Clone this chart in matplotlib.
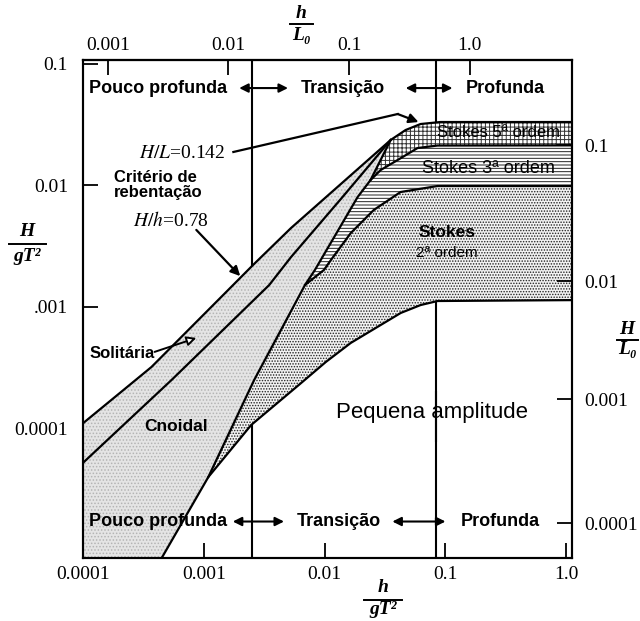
import numpy as np
import matplotlib.pyplot as plt
from matplotlib.lines import Line2D
from matplotlib.ticker import NullLocator

plt.rcParams['font.family'] = 'Liberation Sans'
plt.rcParams['mathtext.fontset'] = 'stix'
plt.rcParams['hatch.linewidth'] = 0.7

# zone limits in h/gT^2
shallow_lim = 0.0025
deep_lim = 0.083

# curves: (h/gT^2, H/gT^2)
brk_x = [1.0e-4, 3.67e-4, 1.39e-3, 2.55e-3, 5.26e-3, 1.359e-2, 3.516e-2, 4.675e-2, 6.217e-2, 9.09e-2, 1.3]
brk_y = [1.1e-4, 3.18e-4, 1.20e-3, 2.20e-3, 4.43e-3, 1.019e-2, 2.347e-2, 2.836e-2, 3.177e-2, 3.30e-2, 3.3e-2]
conv = 6  # where solitary / cnoidal / Ursell lines meet the breaking curve

sol_x = [1.0e-4, 5.37e-4, 3.46e-3, 5.26e-3, 1.359e-2, 3.516e-2]
sol_y = [5.2e-5, 2.48e-4, 1.50e-3, 2.555e-3, 7.67e-3, 2.347e-2]

urs_x = [4.3e-4, 1.085e-3, 2.60e-3, 6.86e-3, 8.29e-3, 1.872e-2, 2.396e-2, 3.516e-2]
urs_y = [8.0e-6, 3.95e-5, 2.48e-4, 1.503e-3, 2.00e-3, 7.96e-3, 1.099e-2, 2.347e-2]

lin_x = [1.085e-3, 2.46e-3, 6.35e-3, 1.022e-2, 1.64e-2, 4.26e-2, 6.217e-2, 8.6e-2, 1.3]
lin_y = [3.95e-5, 1.06e-4, 2.34e-4, 3.50e-4, 5.01e-4, 8.85e-4, 1.028e-3, 1.11e-3, 1.13e-3]

st3_x = [6.86e-3, 9.85e-3, 1.125e-2, 1.643e-2, 2.545e-2, 4.25e-2, 8.59e-2, 1.3]
st3_y = [1.503e-3, 2.00e-3, 2.414e-3, 4.025e-3, 6.225e-3, 8.76e-3, 9.81e-3, 9.81e-3]

st5_x = [2.396e-2, 2.907e-2, 4.016e-2, 5.87e-2, 8.59e-2, 1.3]
st5_y = [1.099e-2, 1.329e-2, 1.606e-2, 2.015e-2, 2.113e-2, 2.12e-2]

bottom_ticks = [1e-4, 1e-3, 1e-2, 1e-1, 1.0]
bottom_labels = ['0.0001', '0.001', '0.01', '0.1', '1.0']
left_ticks = [1e-1, 1e-2, 1e-3, 1e-4]
left_labels = ['0.1', '0.01', '.001', '0.0001']
top_ticks = [0.001, 0.01, 0.1, 1.0]
top_labels = ['0.001', '0.01', '0.1', '1.0']
right_ticks = [2.13e-2, 1.62e-3, 1.72e-4, 1.64e-5]
right_labels = ['0.1', '0.01', '0.001', '0.0001']

W, H = 640, 621
fig = plt.figure(figsize=(W / 100, H / 100), dpi=100)
ax = fig.add_axes([0.1302, 0.1019, 0.7631, 0.8015])
ax.set_xscale('log')
ax.set_yscale('log')
ax.set_xlim(10 ** -3.9856, 10 ** 0.0458)
ax.set_ylim(10 ** -5.0675, 10 ** -0.971)

tick_kw = dict(direction='in', length=11, width=1.3, labelsize=14,
               labelfontfamily='Liberation Serif')
ax.set_xticks(bottom_ticks, bottom_labels)
ax.set_yticks(left_ticks, left_labels)
ax.minorticks_off()
ax.tick_params(axis='x', pad=6, **tick_kw)
ax.tick_params(axis='y', pad=11, **tick_kw)
for s in ax.spines.values():
    s.set_linewidth(1.5)

top = ax.secondary_xaxis('top', functions=(lambda x: x * 2 * np.pi, lambda x: x / (2 * np.pi)))
top.set_xticks(top_ticks, top_labels)
top.xaxis.set_minor_locator(NullLocator())
top.tick_params(pad=4, **tick_kw)
top.spines['top'].set_linewidth(1.5)

ax2 = ax.twinx()
ax2.set_yscale('log')
ax2.set_ylim(ax.get_ylim())
ax2.set_yticks(right_ticks, right_labels)
ax2.minorticks_off()
ax2.tick_params(pad=9, **tick_kw)
for s in ax2.spines.values():
    s.set_linewidth(1.5)

# zone boundaries (hidden under the filled regions)
ax.axvline(shallow_lim, color='k', lw=1.5, zorder=1)
ax.vlines([deep_lim, deep_lim], [1e-6, 7.67e-5], [2.02e-4, 1.0], color='k', lw=1.5, zorder=1)

brk = list(zip(brk_x, brk_y))
sol = list(zip(sol_x, sol_y))
urs = list(zip(urs_x, urs_y))
lin = list(zip(lin_x, lin_y))
st3 = list(zip(st3_x, st3_y))
st5 = list(zip(st5_x, st5_y))

light = dict(facecolor='#e4e4e4', edgecolor='#b4b4b4', hatch='.....', lw=0, zorder=2)
solitary = brk[:conv + 1] + sol[::-1][1:]
cnoidal = sol + urs[::-1][1:] + [(5e-5, 8e-6), (5e-5, sol_y[0])]
stokes2 = lin + st3[::-1] + [urs[2]]
stokes3 = st3 + st5[::-1] + [urs[5], urs[4]]
stokes5 = st5 + brk[::-1][:len(brk) - conv]

for poly, kw in [(solitary, light), (cnoidal, light),
                 (stokes2, dict(facecolor='#f2f2f2', edgecolor='#222222', hatch='......', lw=0, zorder=2)),
                 (stokes3, dict(facecolor='white', edgecolor='#222222', hatch='-----', lw=0, zorder=2)),
                 (stokes5, dict(facecolor='white', edgecolor='#333333', hatch='++++', lw=0, zorder=2))]:
    px, py = zip(*poly)
    ax.fill(px, py, **kw)

for xs, ys in [(brk_x, brk_y), (sol_x, sol_y), (urs_x, urs_y), (lin_x, lin_y),
               (st3_x, st3_y), (st5_x, st5_y)]:
    ax.plot(xs, ys, color='k', lw=1.6, zorder=3, solid_joinstyle='round')

# zone names and arrows
zone = dict(fontsize=13, fontweight='bold', va='center', zorder=5)
arr = dict(arrowstyle='<|-|>', color='k', lw=1.5, mutation_scale=13, shrinkA=0, shrinkB=0)
for y in [6.28e-2, 1.70e-5]:
    ax.text(1.11e-4, y, 'Pouco profunda', ha='left', **zone)
ax.text(1.40e-2, 6.28e-2, 'Transição', ha='center', **zone)
ax.text(1.30e-2, 1.70e-5, 'Transição', ha='center', **zone)
ax.text(0.3125, 6.28e-2, 'Profunda', ha='center', **zone)
ax.text(0.284, 1.70e-5, 'Profunda', ha='center', **zone)
for (x0, x1), y in [((1.955e-3, 4.96e-3), 6.28e-2), ((4.68e-2, 0.1143), 6.28e-2),
                    ((1.73e-3, 4.60e-3), 1.70e-5), ((3.63e-2, 0.1), 1.70e-5)]:
    ax.annotate('', xy=(x1, y), xytext=(x0, y), arrowprops=arr, zorder=5)

# region labels
ax.text(0.274, 2.73e-2, 'Stokes 5ª ordem', ha='center', va='center', fontsize=12, zorder=5)
ax.text(0.2267, 1.38e-2, 'Stokes 3ª ordem', ha='center', va='center', fontsize=13, zorder=5)
ax.text(0.1033, 4.03e-3, 'Stokes', ha='center', va='center', fontsize=12.5, fontweight='bold', zorder=5)
ax.text(0.1033, 2.77e-3, '2ª ordem', ha='center', va='center', fontsize=11, zorder=5)
ax.text(7.74e-2, 1.33e-4, 'Pequena amplitude', ha='center', va='center', fontsize=16, zorder=5)
ax.text(5.9e-4, 1.02e-4, 'Cnoidal', ha='center', va='center', fontsize=12.5, fontweight='bold', zorder=5)
ax.text(1.13e-4, 4.14e-4, 'Solitária', ha='left', va='center', fontsize=12, fontweight='bold', zorder=5)
ax.text(1.79e-4, 1.0e-2, 'Critério de\nrebentação', ha='left', va='center', fontsize=12,
        fontweight='bold', linespacing=0.95, zorder=5)
ax.text(1.5e-3, 1.83e-2, r'$H/L$=0.142', ha='right', va='center', fontsize=14,
        family='Liberation Serif', zorder=5)
ax.text(5.28e-4, 5.15e-3, r'$H/h$=0.78', ha='center', va='center', fontsize=14,
        family='Liberation Serif', zorder=5)

# leaders
ax.plot([1.75e-3, 4.02e-2], [1.87e-2, 3.84e-2], color='k', lw=1.6, zorder=4)
ax.annotate('', xy=(5.98e-2, 3.30e-2), xytext=(4.02e-2, 3.84e-2), zorder=4,
            arrowprops=dict(arrowstyle='-|>', color='k', lw=1.6, mutation_scale=14, shrinkA=0, shrinkB=0))
ax.annotate('', xy=(1.995e-3, 1.78e-3), xytext=(8.63e-4, 4.27e-3), zorder=4,
            arrowprops=dict(arrowstyle='-|>', color='k', lw=1.6, mutation_scale=14, shrinkA=0, shrinkB=0))
ax.annotate('', xy=(8.63e-4, 5.51e-4), xytext=(3.89e-4, 4.23e-4), zorder=4,
            arrowprops=dict(arrowstyle='-|>', fc='white', ec='k', lw=1.4, mutation_scale=14, shrinkA=0, shrinkB=0))

# fraction axis titles
ffont = dict(family=['Liberation Serif', 'DejaVu Serif'], fontsize=14, fontweight='bold',
             fontstyle='italic', ha='center', va='center')


def frac(xc, y_num, y_bar, y_den, half, num, den):
    fig.text(xc / W, 1 - y_num / H, num, **ffont)
    fig.add_artist(Line2D([(xc - half) / W, (xc + half) / W], [1 - y_bar / H] * 2,
                          transform=fig.transFigure, color='k', lw=1.4))
    fig.text(xc / W, 1 - y_den / H, den, **ffont)


frac(27, 232, 244, 256, 18.5, 'H', 'gT²')
frac(301.5, 14, 24, 36, 11.5, 'h', 'L₀')
frac(627, 329, 339.5, 350, 10.5, 'H', 'L₀')
frac(383, 587, 600, 610, 19, 'h', 'gT²')

fig.savefig('out.png', dpi=100)
